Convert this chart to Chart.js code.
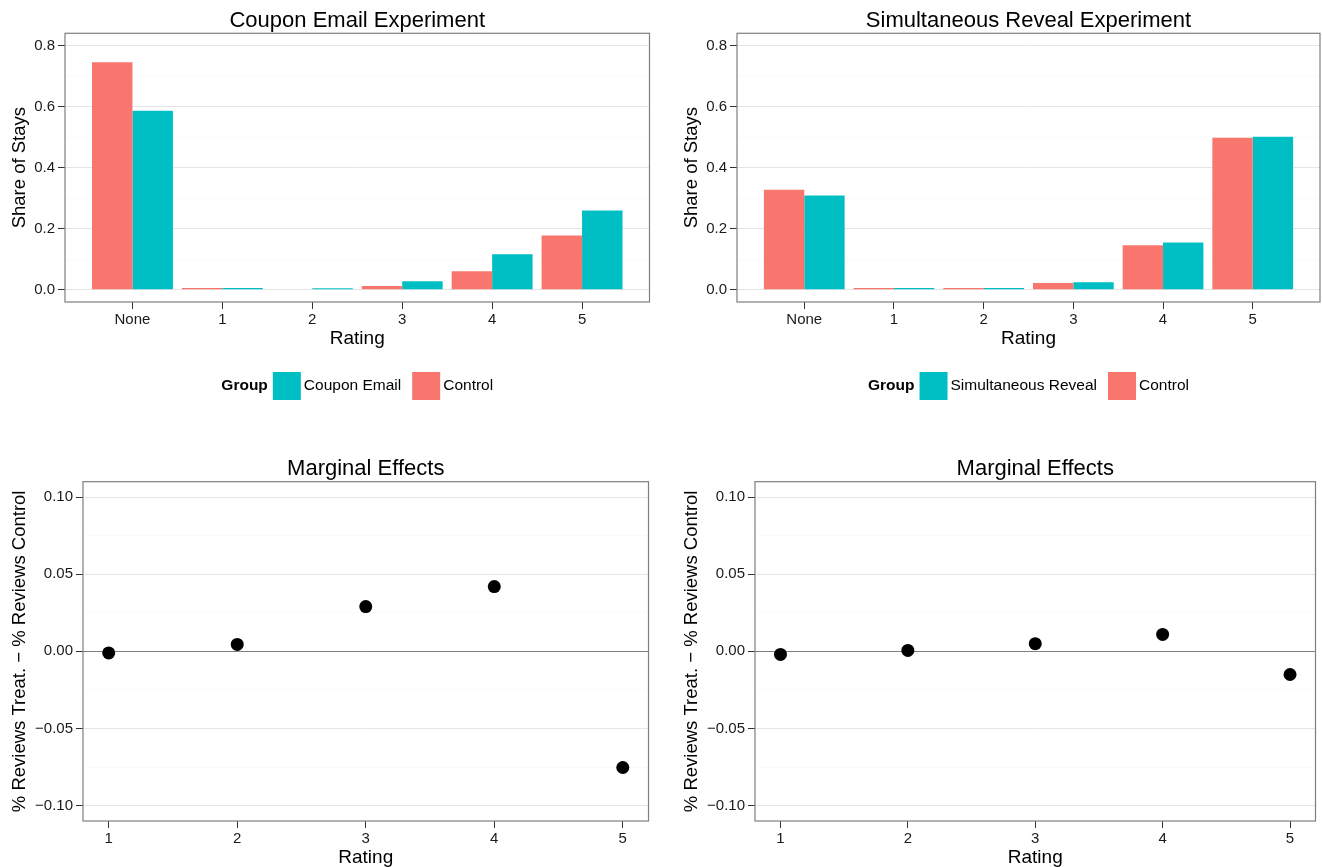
<!DOCTYPE html>
<html>
<head>
<meta charset="utf-8">
<script src="https://cdn.jsdelivr.net/npm/chart.js@4"></script>
<style>
  body { margin: 0; background: #fff; }
  canvas { position: absolute; }
</style>
</head>
<body>
<canvas id="couponBars" width="661" height="440" style="left:0;top:0"></canvas>
<canvas id="revealBars" width="661" height="440" style="left:661px;top:0"></canvas>
<canvas id="couponEffects" width="661" height="427" style="left:0;top:440px"></canvas>
<canvas id="revealEffects" width="661" height="427" style="left:661px;top:440px"></canvas>
<script>
// Data
const ratingCats = ['None', '1', '2', '3', '4', '5'];
const couponControl = [0.745, 0.006, 0.002, 0.012, 0.061, 0.178];
const couponTreated = [0.586, 0.006, 0.005, 0.028, 0.116, 0.260];
const revealControl = [0.328, 0.006, 0.006, 0.022, 0.146, 0.498];
const revealTreated = [0.309, 0.006, 0.006, 0.025, 0.155, 0.501];

const effectRatings = [1, 2, 3, 4, 5];
const couponEffect = [-0.001, 0.0045, 0.029, 0.042, -0.0753];
const revealEffect = [-0.002, 0.0006, 0.005, 0.011, -0.015];

const shareTicks = [0, 0.2, 0.4, 0.6, 0.8];
const shareTickLabels = ['0.0', '0.2', '0.4', '0.6', '0.8'];
const shareMinor = [0.1, 0.3, 0.5, 0.7];
const effectTicks = [-0.1, -0.05, 0, 0.05, 0.1];
const effectTickLabels = ['\u22120.10', '\u22120.05', '0.00', '0.05', '0.10'];
const effectMinor = [-0.075, -0.025, 0.025, 0.075];

const RED = '#F8766D';
const TEAL = '#00BFC4';
const FONT = "'Liberation Sans', Arial, sans-serif";

Chart.defaults.font.family = FONT;
Chart.defaults.color = '#1a1a1a';
Chart.defaults.animation = false;

function findTick(list, v) {
    return list.findIndex(t => Math.abs(t - v) < 1e-9);
}

// grey frame round the panel, like theme_bw
const panelBorder = {
    id: 'panelBorder',
    afterDatasetsDraw(chart) {
        const { ctx, chartArea: a } = chart;
        ctx.save();
        ctx.strokeStyle = '#7f7f7f';
        ctx.lineWidth = 1.2;
        ctx.strokeRect(a.left, a.top, a.right - a.left, a.bottom - a.top);
        ctx.restore();
    }
};

// "Group" legend laid out in one row under the panel
const groupLegend = {
    id: 'groupLegend',
    afterDraw(chart, args, opts) {
        if (!opts.items) return;
        const { ctx, chartArea: a } = chart;
        const box = 28;
        ctx.save();
        ctx.font = 'bold 15.5px ' + FONT;
        const titleW = ctx.measureText(opts.title).width;
        ctx.font = '15.5px ' + FONT;
        const widths = opts.items.map(it => ctx.measureText(it.label).width);
        let total = titleW;
        widths.forEach((w, i) => { total += (i === 0 ? 5 : 11) + box + 3 + w; });
        let x = (a.left + a.right) / 2 - total / 2;
        const y = opts.y;
        ctx.textBaseline = 'middle';
        ctx.textAlign = 'left';
        ctx.fillStyle = '#000';
        ctx.font = 'bold 15.5px ' + FONT;
        ctx.fillText(opts.title, x, y);
        x += titleW;
        ctx.font = '15.5px ' + FONT;
        opts.items.forEach((it, i) => {
            x += i === 0 ? 5 : 11;
            ctx.fillStyle = it.color;
            ctx.fillRect(x, y - box / 2, box, box);
            x += box + 3;
            ctx.fillStyle = '#000';
            ctx.fillText(it.label, x, y);
            x += widths[i];
        });
        ctx.restore();
    }
};

function yAxis(min, max, major, labels, minor, width, title, zeroColor) {
    return {
        min, max,
        afterBuildTicks: s => { s.ticks = major.concat(minor).sort((p, q) => p - q).map(v => ({ value: v })); },
        afterFit: s => { s.width = width; },
        ticks: {
            autoSkip: false,
            padding: 3,
            font: { size: 15, lineHeight: 1 },
            callback: v => { const i = findTick(major, v); return i < 0 ? '' : labels[i]; }
        },
        grid: {
            tickLength: 7,
            color: c => {
                const v = c.tick.value;
                if (zeroColor && Math.abs(v) < 1e-9) return zeroColor;
                return findTick(major, v) < 0 ? '#fafafa' : '#e5e5e5';
            },
            tickColor: c => findTick(major, c.tick.value) < 0 ? 'rgba(0,0,0,0)' : '#333'
        },
        border: { display: false },
        title: { display: true, text: title, color: '#000', font: { size: 18.5 }, padding: { top: 9, bottom: 0 } }
    };
}

function xAxis(min, max, values, label) {
    return {
        type: 'linear', min, max,
        offset: false,
        afterBuildTicks: s => { s.ticks = values.map(v => ({ value: v })); },
        ticks: {
            autoSkip: false, maxRotation: 0, padding: 3,
            font: { size: 15, lineHeight: 1 },
            callback: label
        },
        grid: { offset: false, drawOnChartArea: false, tickLength: 7, tickColor: '#333' },
        border: { display: false },
        title: { display: true, text: 'Rating', color: '#000', font: { size: 19, lineHeight: 1 }, padding: { top: -1, bottom: 0 } }
    };
}

function barChart(id, title, treatedLabel, control, treated, padLeft, padRight) {
    return new Chart(document.getElementById(id), {
        type: 'bar',
        data: {
            datasets: [
                { label: 'Control', data: control.map((v, i) => ({ x: i, y: v })), backgroundColor: RED },
                { label: treatedLabel, data: treated.map((v, i) => ({ x: i, y: v })), backgroundColor: TEAL }
            ]
        },
        options: {
            responsive: false,
            devicePixelRatio: 1,
            events: [],
            layout: { padding: { top: 0, left: padLeft, right: padRight, bottom: 92 } },
            datasets: { bar: { categoryPercentage: 0.9, barPercentage: 1 } },
            scales: {
                x: xAxis(-0.75, 5.75, ratingCats.map((c, i) => i), v => ratingCats[v]),
                y: yAxis(-0.04, 0.84, shareTicks, shareTickLabels, shareMinor, 65, 'Share of Stays', null)
            },
            plugins: {
                legend: { display: false },
                tooltip: { enabled: false },
                title: {
                    display: true, text: title, fullSize: false, color: '#000',
                    font: { size: 22, weight: 'normal', lineHeight: 1 },
                    padding: { top: 9.7, bottom: 1.6 }
                },
                groupLegend: {
                    title: 'Group', y: 386,
                    items: [{ label: treatedLabel, color: TEAL }, { label: 'Control', color: RED }]
                }
            }
        },
        plugins: [panelBorder, groupLegend]
    });
}

function effectChart(id, values, padLeft, padRight) {
    return new Chart(document.getElementById(id), {
        type: 'scatter',
        data: {
            datasets: [{
                data: values.map((v, i) => ({ x: effectRatings[i], y: v })),
                backgroundColor: '#000', borderWidth: 0, pointRadius: 6.5
            }]
        },
        options: {
            responsive: false,
            devicePixelRatio: 1,
            events: [],
            layout: { padding: { top: 0, left: padLeft, right: padRight, bottom: 0 } },
            scales: {
                x: xAxis(0.8, 5.2, effectRatings, v => String(v)),
                y: yAxis(-0.11, 0.11, effectTicks, effectTickLabels, effectMinor, 83,
                    '% Reviews Treat. \u2212 % Reviews Control', '#7f7f7f')
            },
            plugins: {
                legend: { display: false },
                tooltip: { enabled: false },
                title: {
                    display: true, text: 'Marginal Effects', fullSize: false, color: '#000',
                    font: { size: 22, weight: 'normal', lineHeight: 1 },
                    padding: { top: 18.3, bottom: 1.4 }
                }
            }
        },
        plugins: [panelBorder]
    });
}

barChart('couponBars', 'Coupon Email Experiment', 'Coupon Email', couponControl, couponTreated, 0, 11.5);
barChart('revealBars', 'Simultaneous Reveal Experiment', 'Simultaneous Reveal', revealControl, revealTreated, 11, 2);
effectChart('couponEffects', couponEffect, 0, 12.5);
effectChart('revealEffects', revealEffect, 11, 2.5);
</script>
</body>
</html>
